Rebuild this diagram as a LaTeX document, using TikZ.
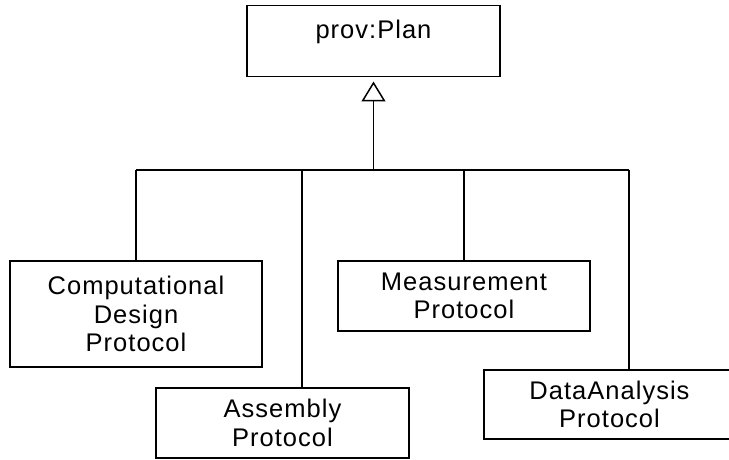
\documentclass[tikz,border=0pt]{standalone}
\usepackage{fontspec}
\setmainfont{Liberation Sans}[LetterSpace=4]
\usetikzlibrary{arrows.meta}
\begin{document}
\begin{tikzpicture}[x=1pt, y=-1pt,
  line width=1.5pt,
  classbox/.style={draw, inner sep=0pt, align=center,
    font=\fontsize{25.5}{28.5}\selectfont},
  genarrow/.style={-{Triangle[open, length=20pt, width=24pt, line width=1.5pt]}, shorten >=4pt}]
  \useasboundingbox (0,0) rectangle (729,460);
  \clip (0,0) rectangle (729,460);

  % superclass with empty lower area
  \node[classbox, minimum width=253pt, text height=32.5pt, text depth=38.5pt]
    (plan) at (373.5,5) [anchor=north] {prov:Plan};

  % subclasses
  \node[classbox, minimum width=252pt, minimum height=106pt] (comp)   at (136,314)   {Computational\\Design\\Protocol};
  \node[classbox, minimum width=253pt, minimum height=70pt]  (assem)  at (282.5,423) {Assembly\\Protocol};
  \node[classbox, minimum width=252pt, minimum height=70pt]  (meas)   at (464,296)   {Measurement\\Protocol};
  \node[classbox, minimum width=251pt, minimum height=69pt]  (data)   at (609.5,404.5) {DataAnalysis\\Protocol};

  % bus junction and drop points
  \coordinate (hub) at (373.5,170);
  \coordinate (dropA) at (302,170);
  \coordinate (dropD) at (629,170);

  % generalization arrow
  \draw[genarrow] (hub) -- (plan);

  % shared horizontal bus
  \draw (comp.north |- hub) -- (dropD);

  % drops to each subclass
  \draw (comp.north |- hub) -- (comp.north);
  \draw (dropA) -- (dropA |- assem.north);
  \draw (meas.north |- hub) -- (meas.north);
  \draw (dropD) -- (dropD |- data.north);
\end{tikzpicture}
\end{document}
